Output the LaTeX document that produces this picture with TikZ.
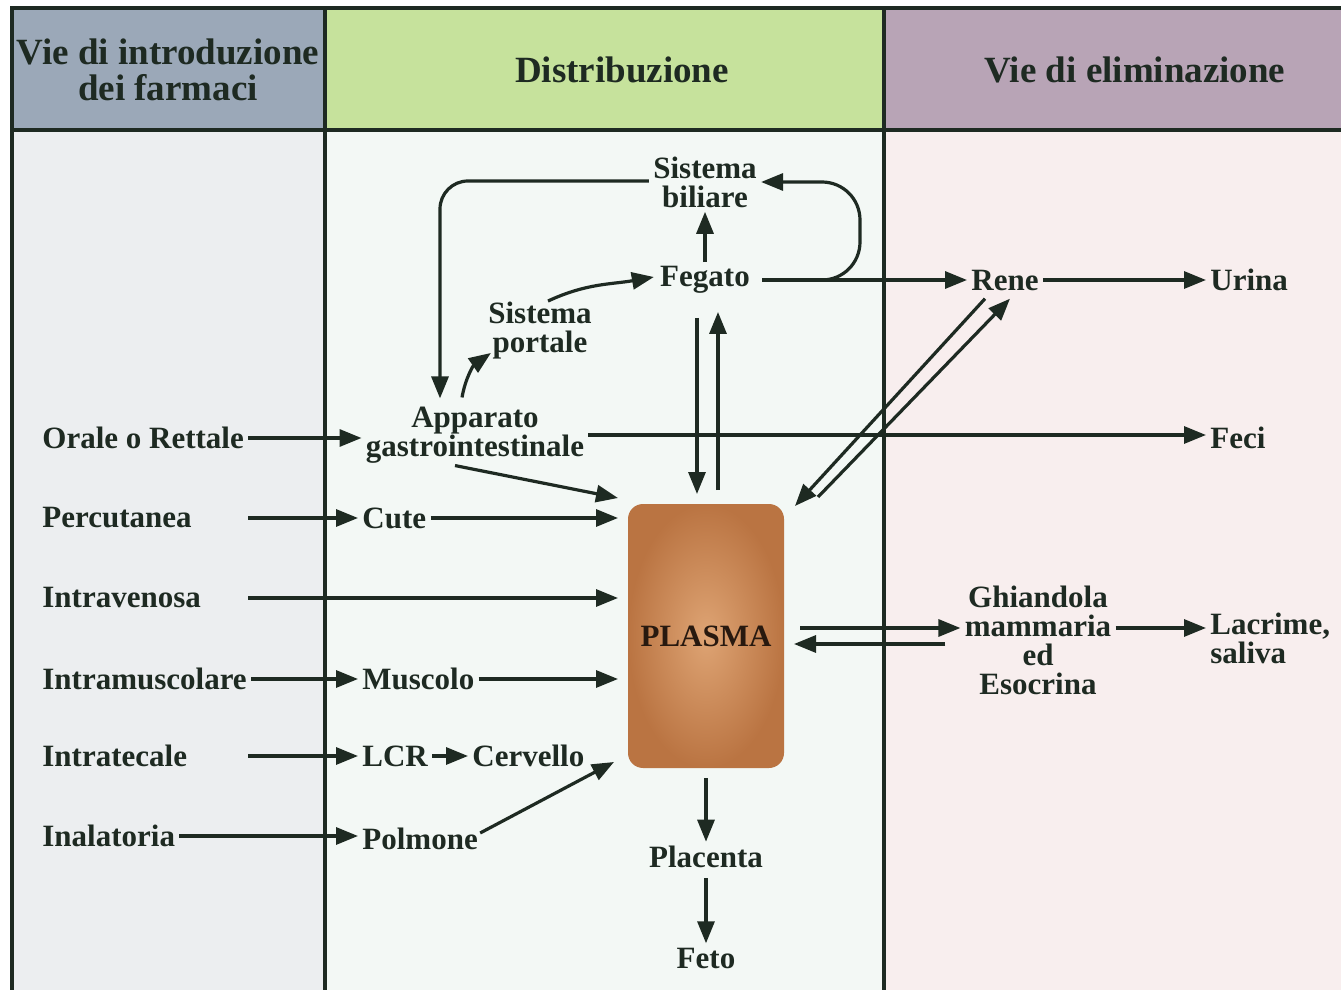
\documentclass[tikz,border=0pt]{standalone}
\usepackage{fontspec}
\setmainfont{Liberation Serif}
\usetikzlibrary{arrows.meta,calc}
\definecolor{ink}{RGB}{30,42,34}
\definecolor{hdrL}{RGB}{155,168,184}
\definecolor{hdrM}{RGB}{198,226,156}
\definecolor{hdrR}{RGB}{184,164,182}
\definecolor{bodyL}{RGB}{236,238,240}
\definecolor{bodyM}{RGB}{243,248,245}
\definecolor{bodyR}{RGB}{248,238,238}
\definecolor{plin}{RGB}{222,164,116}
\definecolor{plout}{RGB}{186,116,66}
\definecolor{pltext}{RGB}{40,25,15}
\begin{document}
\begin{tikzpicture}[x=0.5pt,y=-0.5pt,
  lbl/.style={font=\fontsize{15.5}{14.5}\selectfont\bfseries, text=ink, align=center, inner sep=2pt},
  hdr/.style={font=\fontsize{18.5}{18}\selectfont\bfseries, text=ink, align=center},
  arr/.style={draw=ink, line width=1.6pt, -{Triangle[length=11pt,width=8.5pt]}},
  frameline/.style={draw=ink, line width=1.6pt},
  plasmabox/.style={rounded corners=7.5pt, inner color=plin, outer color=plout,
     minimum width=78pt, minimum height=132pt, outer sep=5pt,
     font=\fontsize{15.5}{14.5}\selectfont\bfseries, text=pltext}]
\useasboundingbox (0,0) rectangle (1341,990);
\fill[white] (0,0) rectangle (1341,990);
% backgrounds
\fill[hdrL] (12,8) rectangle (325,130);
\fill[hdrM] (325,8) rectangle (884,130);
\fill[hdrR] (884,8) rectangle (1341,130);
\fill[bodyL] (12,130) rectangle (325,990);
\fill[bodyM] (325,130) rectangle (884,990);
\fill[bodyR] (884,130) rectangle (1341,990);
% frame
\draw[frameline] (1341,8) -- (12,8) -- (12,990);
\draw[frameline] (12,130) -- (1341,130);
\draw[frameline] (325,8) -- (325,990);
\draw[frameline] (884,8) -- (884,990);
% headers
\node[hdr] (h1) at (168,70) {Vie di introduzione\\dei farmaci};
\node[hdr] (h2) at (622,70) {Distribuzione};
\node[hdr] (h3) at (1135,70) {Vie di eliminazione};
% left labels
\node[lbl, anchor=west] (orale) at (38,438) {Orale o Rettale};
\node[lbl, anchor=west] (perc) at (38,518) {Percutanea};
\node[lbl, anchor=west] (iv) at (38,598) {Intravenosa};
\node[lbl, anchor=west] (im) at (38,679) {Intramuscolare};
\node[lbl, anchor=west] (it) at (38,756) {Intratecale};
\node[lbl, anchor=west] (inal) at (38,836) {Inalatoria};
% middle labels
\node[lbl] (app) at (475,435) {Apparato\\gastrointestinale};
\node[lbl, anchor=west] (cute) at (358,518) {Cute};
\node[lbl, anchor=west] (musc) at (358,679) {Muscolo};
\node[lbl, anchor=west] (lcr) at (358,756) {LCR};
\node[lbl, anchor=west] (cerv) at (468,756) {Cervello};
\node[lbl, anchor=west] (polm) at (358,839) {Polmone};
\node[lbl] (port) at (540,331) {Sistema\\portale};
\node[lbl] (fegato) at (705,280) {Fegato};
\node[lbl] (bil) at (705,182) {Sistema\\biliare};
\node[plasmabox] (pl) at (706,636) {PLASMA};
\node[lbl] (plac) at (706,857) {Placenta};
\node[lbl] (feto) at (706,958) {Feto};
% right labels
\node[lbl] (rene) at (1005,280) {Rene};
\node[lbl, anchor=west] (urina) at (1206,280) {Urina};
\node[lbl, anchor=west] (feci) at (1206,438) {Feci};
\node[lbl] (ghi) at (1038,640) {Ghiandola\\mammaria\\ed\\Esocrina};
\node[lbl, anchor=west, align=left] (lacr) at (1206,638) {Lacrime,\\saliva};
% arrows from introduction routes
\draw[arr] (orale.east) -- (app.west |- orale);
\draw[arr] (orale.east |- perc) -- (cute.west);
\draw[arr] (cute.east) -- (cute -| pl.west);
\draw[arr] (orale.east |- iv) -- (iv -| pl.west);
\draw[arr] (im.east) -- (musc.west);
\draw[arr] (musc.east) -- (musc -| pl.west);
\draw[arr] (orale.east |- it) -- (lcr.west);
\draw[arr] (lcr.east) -- (cerv.west);
\draw[arr] (inal.east) -- (inal.east -| polm.west);
\draw[arr] ($(polm.east)+(-2,-6)$) -- ($(pl.south west)+(-4,-16)$);
\draw[arr] ($(app.south)+(-20,-2)$) -- ($(pl.north west)+(0,4)$);
% gastro-hepatic
\draw[arr] (app.east) -- (app.east -| feci.west);
\draw[arr] ($(app.north)+(-13,-5)$) to[out=80,in=215] ($(port.south west)+(7,-11)$);
\draw[arr] ($(port.north)+(8,3)$) to[out=25,in=190] ($(fegato.west)+(-2,-3)$);
\draw[arr, rounded corners=14pt] ($(bil.west)+(0,-1)$) -| ($(app.north)+(-35,-4)$);
\draw[arr] (fegato.north) -- (fegato.north |- bil.south);
\coordinate (lx) at (860,0);
\draw[arr] ($(fegato.east)+(8,0)$) -- (rene.west);
\draw[arr, rounded corners=19pt] ($(fegato.east)+(8,0)$) -| (lx |- bil.east) -- (bil.east);
\draw[arr] ($(fegato.south)+(-8,20)$) -- ($(pl.north)+(-9,0)$);
\draw[arr] ($(pl.north)+(12,-4)$) -- ($(fegato.south)+(13,14)$);
% kidney
\draw[arr] ($(rene.south)+(-20,4)$) -- ($(pl.north east)+(1,12)$);
\draw[arr] ($(pl.north east)+(24,3)$) -- ($(rene.south)+(5,4)$);
\draw[arr] (rene.east) -- (urina.west);
% glands
\coordinate (pr) at ($(pl.east)+(6,-8)$);
\draw[arr] (pr) -- (pr -| ghi.west);
\coordinate (gl) at ($(ghi.west)+(-15,4)$);
\draw[arr] (gl) -- (gl -| pl.east);
\coordinate (g1) at ($(ghi.east)+(0,-12)$);
\draw[arr] (g1) -- (g1 -| lacr.west);
% placenta
\draw[arr] (pl.south) -- (plac.north);
\draw[arr] ($(plac.south)+(0,6)$) -- (feto.north);
\end{tikzpicture}
\end{document}
